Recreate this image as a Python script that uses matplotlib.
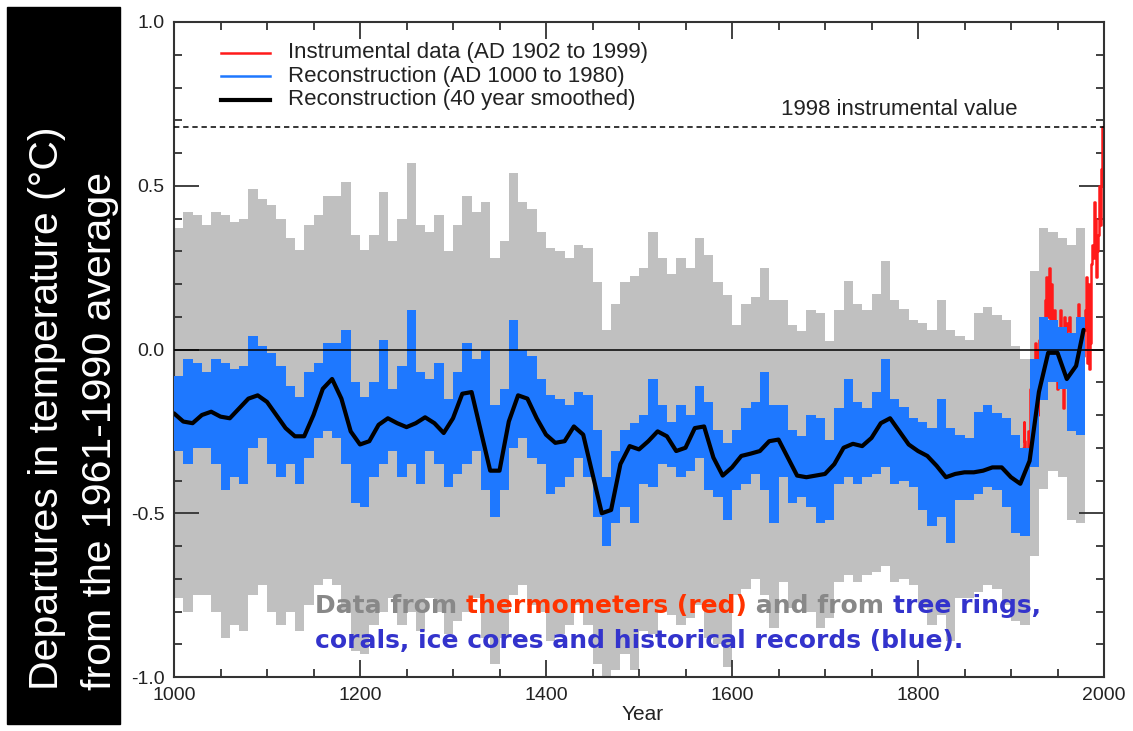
import numpy as np
import matplotlib
matplotlib.use("Agg")
import matplotlib.pyplot as plt
from matplotlib.patches import Rectangle
from matplotlib.ticker import MultipleLocator, FormatStrFormatter

plt.rcParams["font.family"] = ["Liberation Sans", "DejaVu Sans"]
plt.rcParams["axes.unicode_minus"] = False

# --- data ---
# reconstruction, decade by decade: highest and lowest annual value
DECADES = np.arange(1000, 1980, 10)
BLUE_HI = [
    -0.08, -0.03, -0.04, -0.07, -0.03, -0.04, -0.06, -0.05, 0.04, 0.01,
    -0.01, -0.05, -0.11, -0.145, -0.07, -0.04, 0.02, 0.02, 0.06, -0.10,
    -0.145, -0.10, 0.03, -0.12, -0.05, 0.12, -0.07, -0.09, -0.04, -0.15,
    -0.07, 0.02, -0.03, 0.0, -0.17, -0.12, 0.09, 0.0, -0.02, -0.09,
    -0.14, -0.15, -0.17, -0.13, -0.14, -0.245, -0.39, -0.31, -0.245, -0.225,
    -0.20, -0.09, -0.17, -0.22, -0.17, -0.20, -0.11, -0.16, -0.245, -0.285,
    -0.245, -0.18, -0.16, -0.07, -0.17, -0.17, -0.245, -0.265, -0.20, -0.21,
    -0.275, -0.18, -0.09, -0.16, -0.18, -0.13, -0.03, -0.15, -0.175, -0.21,
    -0.22, -0.24, -0.15, -0.24, -0.26, -0.27, -0.19, -0.17, -0.195, -0.21,
    -0.26, -0.30, -0.03, 0.10, 0.09, 0.07, 0.05, 0.10,
]
BLUE_LO = [
    -0.31, -0.35, -0.30, -0.30, -0.35, -0.43, -0.39, -0.41, -0.30, -0.27,
    -0.35, -0.39, -0.35, -0.41, -0.33, -0.27, -0.25, -0.27, -0.35, -0.47,
    -0.48, -0.39, -0.35, -0.31, -0.39, -0.35, -0.41, -0.31, -0.35, -0.42,
    -0.38, -0.35, -0.31, -0.43, -0.51, -0.43, -0.30, -0.27, -0.33, -0.35,
    -0.44, -0.42, -0.39, -0.33, -0.39, -0.51, -0.60, -0.53, -0.48, -0.53,
    -0.41, -0.42, -0.35, -0.36, -0.39, -0.37, -0.33, -0.43, -0.45, -0.52,
    -0.43, -0.41, -0.38, -0.43, -0.53, -0.39, -0.47, -0.45, -0.48, -0.53,
    -0.52, -0.41, -0.39, -0.41, -0.39, -0.38, -0.36, -0.41, -0.40, -0.42,
    -0.49, -0.54, -0.51, -0.59, -0.46, -0.46, -0.44, -0.42, -0.43, -0.48,
    -0.56, -0.57, -0.36, -0.155, -0.10, -0.12, -0.25, -0.26,
]
# 2-sigma uncertainty per century (1000s ... 1900s)
UNCERT = [0.45, 0.45, 0.45, 0.45, 0.45, 0.45, 0.32, 0.30, 0.30, 0.27]

SMOOTH_YEARS = list(range(1000, 1980, 10)) + [1978]
SMOOTH = [
    -0.195, -0.22, -0.225, -0.20, -0.19, -0.205, -0.21, -0.18, -0.15, -0.14,
    -0.16, -0.20, -0.24, -0.265, -0.265, -0.20, -0.12, -0.09, -0.15, -0.25,
    -0.29, -0.28, -0.23, -0.21, -0.225, -0.237, -0.225, -0.207, -0.225, -0.255,
    -0.21, -0.135, -0.13, -0.25, -0.37, -0.37, -0.22, -0.14, -0.15, -0.21,
    -0.26, -0.285, -0.28, -0.235, -0.26, -0.38, -0.50, -0.49, -0.35, -0.295,
    -0.305, -0.28, -0.25, -0.265, -0.31, -0.30, -0.24, -0.235, -0.33, -0.385,
    -0.36, -0.325, -0.318, -0.31, -0.28, -0.275, -0.33, -0.385, -0.39, -0.385,
    -0.38, -0.35, -0.30, -0.288, -0.295, -0.27, -0.225, -0.21, -0.25, -0.29,
    -0.31, -0.325, -0.355, -0.39, -0.38, -0.375, -0.375, -0.37, -0.36, -0.36,
    -0.39, -0.41, -0.34, -0.13, -0.01, -0.01, -0.09, -0.05, 0.06,
]

RED_YEARS = np.arange(1902, 2000)
RED = [
    -0.32, -0.42, -0.52, -0.35, -0.30, -0.45, -0.40, -0.50, -0.42, -0.48,
    -0.38, -0.30, -0.22, -0.28, -0.40, -0.50, -0.36, -0.25, -0.30, -0.12,
    -0.25, -0.18, -0.22, -0.08, 0.02, -0.05, -0.02, -0.20, 0.00, 0.03,
    -0.02, -0.12, 0.04, -0.02, 0.05, 0.15, 0.22, 0.10, 0.12, 0.25,
    0.08, 0.18, 0.20, 0.06, 0.08, 0.12, 0.04, 0.02, -0.12, 0.05,
    0.06, 0.12, -0.06, -0.08, -0.18, 0.08, 0.10, 0.06, -0.02, 0.08,
    0.06, 0.10, -0.20, -0.12, -0.06, -0.02, -0.10, 0.02, -0.02, -0.14,
    -0.12, 0.14, -0.12, 0.00, -0.24, 0.08, -0.02, 0.06, 0.12, 0.22,
    -0.04, 0.20, -0.06, 0.02, 0.14, 0.26, 0.32, 0.28, 0.45, 0.40,
    0.22, 0.30, 0.35, 0.50, 0.38, 0.55, 0.68, 0.50,
]
VALUE_1998 = 0.68

# --- style ---
GREY = "#c0c0c0"
BLUE = "#1e78ff"
RED_C = "#ff1a1a"
INK = "#333333"
TXT = "#222222"

fig = plt.figure(figsize=(11.33, 7.31), dpi=100)
fig.patches.append(Rectangle((7 / 1133, 7 / 731), 113 / 1133, 717 / 731,
                             transform=fig.transFigure, color="black", zorder=0))

ax = fig.add_axes([174 / 1133, 54 / 731, 930 / 1133, 655 / 731])

# decade blocks (step fills), last block closed at 1980
edges = np.append(DECADES, 1980)
hi = np.append(BLUE_HI, BLUE_HI[-1])
lo = np.append(BLUE_LO, BLUE_LO[-1])
err = np.repeat(UNCERT, 10)[: len(edges)]

ax.fill_between(edges, lo - err, hi + err, step="post", color=GREY, lw=0, zorder=1)
ax.plot(RED_YEARS, RED, color=RED_C, lw=1.8, zorder=2, drawstyle="steps-mid")
ax.fill_between(edges, lo, hi, step="post", color=BLUE, lw=0, zorder=3)
ax.plot(SMOOTH_YEARS, SMOOTH, color="black", lw=3, zorder=4, solid_capstyle="round")
ax.axhline(0, color="black", lw=1.1, zorder=5)
ax.axhline(VALUE_1998, color="black", lw=1.1, ls=(0, (3.5, 2.5)), zorder=5)

ax.set_xlim(1000, 2000)
ax.set_ylim(-1, 1)
ax.xaxis.set_major_locator(MultipleLocator(200))
ax.xaxis.set_minor_locator(MultipleLocator(50))
ax.yaxis.set_major_locator(MultipleLocator(0.5))
ax.yaxis.set_minor_locator(MultipleLocator(0.1))
ax.yaxis.set_major_formatter(FormatStrFormatter("%.1f"))
ax.tick_params(which="both", direction="in", top=True, right=True, color=INK,
               labelsize=14, labelcolor=TXT, width=1.3)
ax.tick_params(which="major", length=12, pad=7)
ax.tick_params(which="minor", length=6)
ax.tick_params(axis="y", which="major", length=18)
for s in ax.spines.values():
    s.set_color(INK)
    s.set_linewidth(1.5)

# legend drawn by hand
leg = [("Instrumental data (AD 1902 to 1999)", RED_C, 1.8),
       ("Reconstruction (AD 1000 to 1980)", BLUE, 1.8),
       ("Reconstruction (40 year smoothed)", "black", 3.0)]
for i, (lab, c, w) in enumerate(leg):
    yy = 0.953 - i * 0.036
    ax.plot([0.05, 0.103], [yy, yy], color=c, lw=w, transform=ax.transAxes)
    ax.text(0.123, yy, lab, transform=ax.transAxes, va="center", ha="left",
            fontsize=16, color=TXT)

ax.text(1780, 0.70, "1998 instrumental value", ha="center", va="bottom",
        fontsize=16, color=TXT)


# coloured note, pieces chained one after another
def chain(pieces, x, y):
    prev = None
    for txt, col in pieces:
        kw = dict(fontsize=18, fontweight="bold", color=col, family="DejaVu Sans",
                  va="center", ha="left")
        if prev is None:
            prev = ax.text(x, y, txt, **kw)
        else:
            prev = ax.annotate(txt, xy=(1, 0.5), xycoords=prev, **kw)


chain([("Data from ", "#888888"), ("thermometers (red)", "#ff3300"),
       (" and from ", "#888888"), ("tree rings,", "#3333cc")], 1152, -0.782)
chain([("corals, ice cores and historical records (blue).", "#3333cc")], 1152, -0.889)

fig.text(47 / 1133, 41 / 731, "Departures in temperature (°C)", rotation=90,
         ha="center", va="bottom", color="white", fontsize=29.5)
fig.text(100 / 1133, 41 / 731, "from the 1961-1990 average", rotation=90,
         ha="center", va="bottom", color="white", fontsize=29.5)
fig.text(643 / 1133, 16 / 731, "Year", ha="center", va="center",
         fontsize=15, color=TXT)

fig.savefig("out.png", dpi=100)
